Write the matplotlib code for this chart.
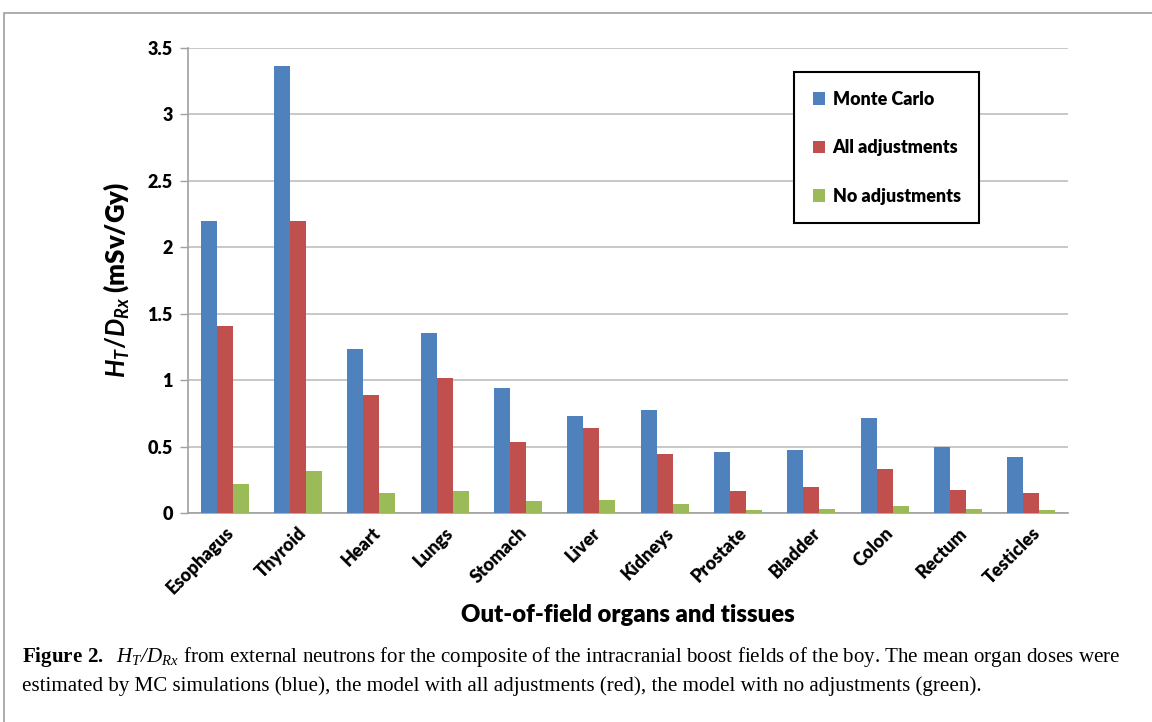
import matplotlib
matplotlib.use("Agg")
import matplotlib.pyplot as plt
import numpy as np
from matplotlib.patches import Rectangle

organs = ["Esophagus", "Thyroid", "Heart", "Lungs", "Stomach", "Liver", "Kidneys",
          "Prostate", "Bladder", "Colon", "Rectum", "Testicles"]
monte_carlo = [2.20, 3.36, 1.236, 1.352, 0.938, 0.728, 0.775, 0.459, 0.474, 0.715, 0.499, 0.421]
all_adj = [1.41, 2.20, 0.886, 1.016, 0.532, 0.637, 0.444, 0.165, 0.193, 0.329, 0.171, 0.148]
no_adj = [0.22, 0.316, 0.15, 0.165, 0.09, 0.098, 0.07, 0.023, 0.028, 0.053, 0.028, 0.022]
series_names = ["Monte Carlo", "All adjustments", "No adjustments"]
yticks = [0, 0.5, 1, 1.5, 2, 2.5, 3, 3.5]
ytick_labels = ["0", "0.5", "1", "1.5", "2", "2.5", "3", "3.5"]

colors = ["#4F81BD", "#C0504D", "#9BBB59"]

plt.rcParams['mathtext.fontset'] = 'custom'
plt.rcParams['mathtext.it'] = 'Lato:italic:bold'
plt.rcParams['mathtext.rm'] = 'Lato:bold'
plt.rcParams['mathtext.bf'] = 'Liberation Serif:bold'
plt.rcParams['mathtext.sf'] = 'Liberation Serif:italic'

W, H = 1152, 722
fig = plt.figure(figsize=(W / 100, H / 100), dpi=100)

# outer frame
fig.patches.append(Rectangle((4 / W, -0.01), 1.1, 1 - 13 / H + 0.01, transform=fig.transFigure,
                             fill=False, edgecolor="#A0A0A0", linewidth=1.2))

ax = fig.add_axes([188 / W, 1 - 513 / H, 880 / W, (513 - 47.7) / H])
x = np.arange(len(organs))
bw = 0.218
for i, (vals, c, name) in enumerate(zip([monte_carlo, all_adj, no_adj], colors, series_names)):
    ax.bar(x + (i - 1) * bw, vals, width=bw, color=c, label=name, zorder=3, linewidth=0)

ax.set_xlim(-0.5, len(organs) - 0.5)
ax.set_ylim(0, 3.5)
ax.set_yticks(yticks)
ax.set_yticklabels(ytick_labels, fontfamily="Lato", fontweight="heavy", fontsize=13)
ax.yaxis.grid(True, color="#BFBFBF", linewidth=1.2, zorder=0)
ax.set_axisbelow(True)
ax.tick_params(axis='y', length=6, color="#A0A0A0", width=1, pad=5)
ax.tick_params(axis='x', length=0)
for s in ["top", "right"]:
    ax.spines[s].set_visible(False)
for s in ["left", "bottom"]:
    ax.spines[s].set_color("#A0A0A0")
    ax.spines[s].set_linewidth(1.2)

ax.set_xticks(x)
ax.set_xticklabels(organs, rotation=45, ha="right", va="top", rotation_mode="anchor",
                   fontfamily="Lato", fontweight="heavy", fontsize=13)
ax.tick_params(axis='x', pad=8)

ax.set_xlabel("Out-of-field organs and tissues", fontfamily="Lato", fontweight="heavy",
              fontsize=17.2, labelpad=5)
ax.set_ylabel(r"$H_T/D_{Rx}$ (mSv/Gy)", fontfamily="Lato", fontweight="heavy", fontsize=18.5,
              labelpad=12)

leg = ax.legend(loc="upper left", bbox_to_anchor=((794 - 188) / 880, (513 - 72) / (513 - 47.7)),
                prop={"family": "Lato", "weight": "heavy", "size": 12.9},
                frameon=True, fancybox=False, edgecolor="black", framealpha=1,
                handlelength=0.7, handleheight=0.7, handletextpad=0.4, labelspacing=1.75,
                borderpad=1.05, borderaxespad=0)
leg.get_frame().set_linewidth(1.5)

fig.text(22 / W, 1 - 657 / H,
         r"$\mathbf{Figure\ 2.}$  $\mathsf{H_T/D_{Rx}}$ from external neutrons for the composite of the intracranial boost fields of the boy. The mean organ doses were",
         fontfamily="Liberation Serif", fontsize=15.1, va="center")
fig.text(22 / W, 1 - 686 / H,
         "estimated by MC simulations (blue), the model with all adjustments (red), the model with no adjustments (green).",
         fontfamily="Liberation Serif", fontsize=15.1, va="center")

fig.savefig("out.png", dpi=100)
